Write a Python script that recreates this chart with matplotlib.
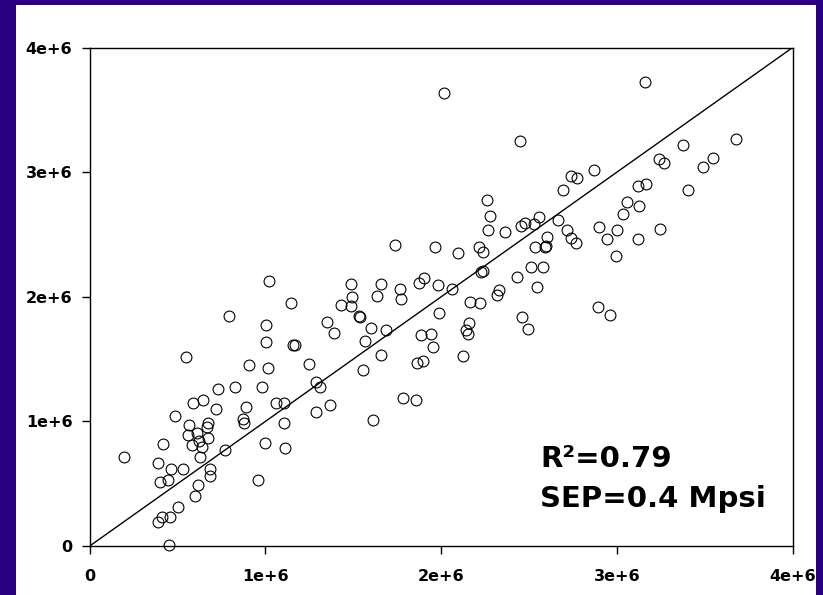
import matplotlib
matplotlib.use("Agg")
import matplotlib.pyplot as plt
from matplotlib.patches import Rectangle

# Observed (x) and predicted (y) values, in units of 1e6
x_vals = [0.197, 0.387, 0.398, 0.419, 0.447, 0.464, 0.485, 0.529, 0.548, 0.558,
          0.567, 0.582, 0.589, 0.599, 0.615, 0.612, 0.624, 0.629, 0.641, 0.646,
          0.667, 0.673, 0.675, 0.683, 0.686, 0.719, 0.732, 0.770, 0.791, 0.827,
          0.872, 0.880, 0.889, 0.906, 0.958, 0.979, 0.999, 1.003, 1.002, 1.013,
          1.018, 1.058, 1.104, 1.107, 1.111, 1.144, 1.158, 1.166, 1.250, 1.286,
          1.288, 1.310, 1.349, 1.366, 1.388, 1.430, 1.487, 1.492, 1.489, 1.534,
          1.540, 1.557, 1.565, 1.599, 1.612, 1.633, 1.659, 1.660, 1.686, 1.737,
          1.766, 1.770, 1.781, 1.856, 1.861, 1.874, 1.883, 1.895, 1.904, 1.940,
          1.952, 1.965, 1.980, 1.989, 2.015, 2.061, 2.097, 2.126, 2.141, 2.151,
          2.158, 2.162, 2.217, 2.222, 2.225, 2.240, 2.240, 2.258, 2.264, 2.276,
          2.316, 2.331, 2.363, 2.430, 2.447, 2.454, 2.460, 2.479, 2.492, 2.511,
          2.528, 2.535, 2.545, 2.555, 2.579, 2.589, 2.602, 2.596, 2.663, 2.693,
          2.716, 2.738, 2.737, 2.765, 2.772, 2.871, 2.890, 2.896, 2.961, 2.945,
          2.993, 3.002, 3.033, 3.057, 3.121, 3.121, 3.124, 3.158, 3.165, 3.237,
          3.243, 3.268, 3.374, 3.406, 3.492, 3.545, 3.679, 0.390, 0.410, 0.459,
          0.501, 0.451]
y_vals = [0.712, 0.669, 0.514, 0.816, 0.532, 0.618, 1.041, 0.616, 1.519, 0.893,
          0.971, 0.811, 1.145, 0.399, 0.490, 0.905, 0.845, 0.717, 0.792, 1.174,
          0.953, 0.869, 0.990, 0.618, 0.562, 1.097, 1.260, 0.770, 1.842, 1.276,
          1.022, 0.990, 1.116, 1.455, 0.527, 1.274, 0.827, 1.640, 1.771, 1.429,
          2.124, 1.145, 1.150, 0.985, 0.784, 1.950, 1.611, 1.613, 1.458, 1.314,
          1.073, 1.274, 1.798, 1.132, 1.712, 1.937, 2.105, 1.996, 1.928, 1.848,
          1.840, 1.413, 1.643, 1.750, 1.014, 2.006, 2.105, 1.530, 1.734, 2.413,
          2.060, 1.985, 1.185, 1.174, 1.466, 2.108, 1.696, 1.485, 2.151, 1.704,
          1.600, 2.402, 2.097, 1.870, 3.637, 2.060, 2.349, 1.522, 1.731, 1.699,
          1.792, 1.958, 2.400, 1.953, 2.201, 2.360, 2.209, 2.776, 2.532, 2.646,
          2.014, 2.055, 2.516, 2.159, 3.253, 2.571, 1.840, 2.595, 1.742, 2.237,
          2.587, 2.397, 2.081, 2.643, 2.237, 2.397, 2.477, 2.408, 2.612, 2.860,
          2.538, 2.469, 2.970, 2.434, 2.951, 3.020, 1.921, 2.557, 1.856, 2.464,
          2.327, 2.538, 2.665, 2.759, 2.461, 2.889, 2.725, 3.727, 2.905, 3.103,
          2.542, 3.076, 3.215, 2.857, 3.045, 3.115, 3.267, 0.193, 0.230, 0.235,
          0.313, 0.010]

scale = 1e6
ticks = [0, 1e6, 2e6, 3e6, 4e6]
tick_labels = ["0", "1e+6", "2e+6", "3e+6", "4e+6"]
line_x = [0, 4e6]
line_y = [0, 4e6]
annot_lines = ["R\u00b2=0.79", "SEP=0.4 Mpsi"]

W, H = 823, 595
fig = plt.figure(figsize=(W / 100, H / 100), dpi=100)
fig.patch.set_facecolor("#2A0082")
fig.patches.append(Rectangle((16 / W, 0), (816 - 16) / W, (595 - 5) / H,
                             transform=fig.transFigure, facecolor="white",
                             edgecolor="none", zorder=-10))

ax = fig.add_axes([89.7 / W, 1 - 546 / H, (792.7 - 89.7) / W, (546 - 47.5) / H])
ax.set_zorder(5)
ax.set_facecolor("white")

ax.plot(line_x, line_y, color="black", lw=1.0, zorder=2)
ax.plot([v * scale for v in x_vals], [v * scale for v in y_vals], linestyle="none",
        marker="o", ms=7.8, mfc="none", mec="black", mew=0.8, zorder=3,
        clip_on=False)

ax.set_xlim(0, 4e6)
ax.set_ylim(0, 4e6)
ax.set_xticks(ticks)
ax.set_yticks(ticks)
ax.set_xticklabels(tick_labels)
ax.set_yticklabels(tick_labels)
for lab in ax.get_xticklabels() + ax.get_yticklabels():
    lab.set_fontweight("bold")
    lab.set_fontsize(11.5)
    lab.set_family("DejaVu Sans")
ax.tick_params(axis="x", direction="out", length=5.5, width=1.0, pad=11)
ax.tick_params(axis="y", direction="out", length=5.5, width=1.0, pad=7)
for s in ax.spines.values():
    s.set_linewidth(1.0)
    s.set_color("black")

ax.text(2.562e6, 0.634e6, annot_lines[0], fontsize=21, fontweight="bold",
        family="DejaVu Sans", ha="left", va="baseline", color="black")
ax.text(2.562e6, 0.313e6, annot_lines[1], fontsize=21, fontweight="bold",
        family="DejaVu Sans", ha="left", va="baseline", color="black")

fig.savefig("out.png", dpi=100, facecolor=fig.get_facecolor())
